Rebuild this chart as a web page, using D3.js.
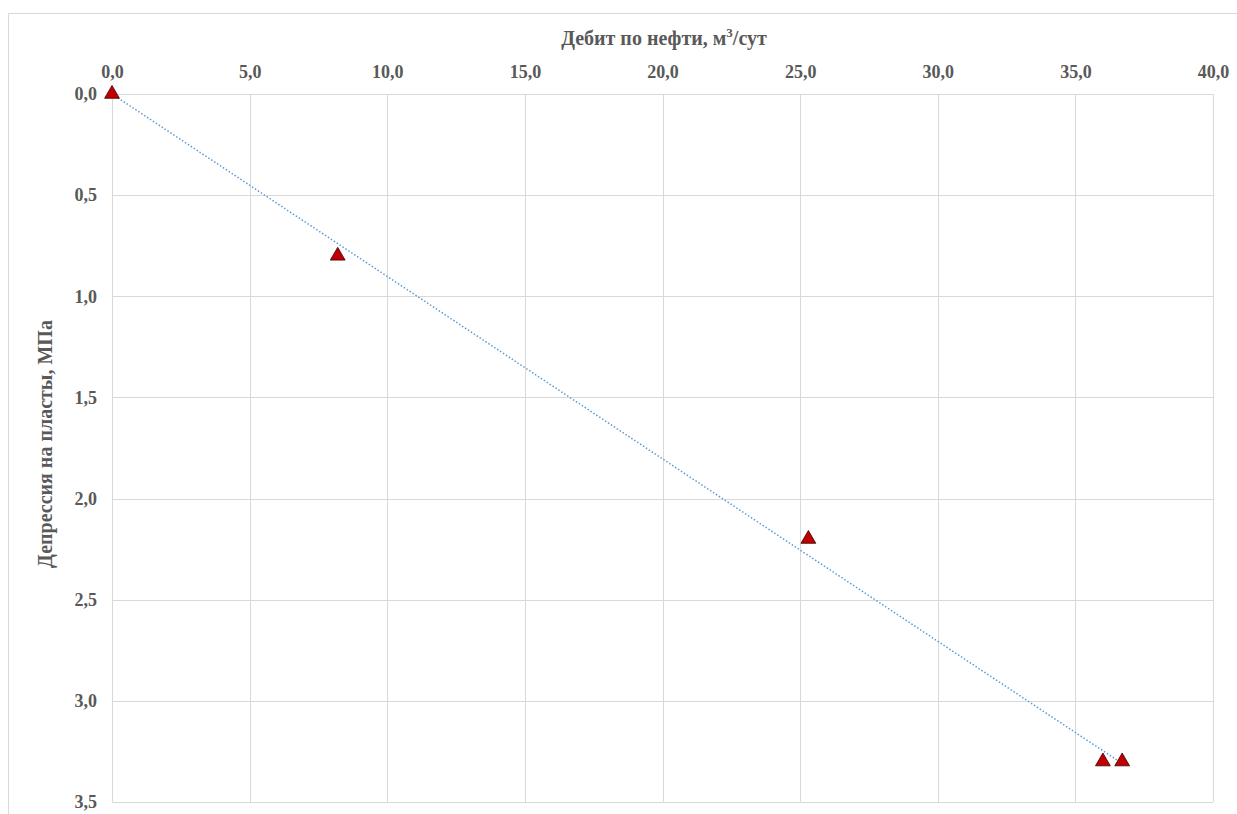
<!DOCTYPE html>
<html>
<head>
<meta charset="utf-8">
<title>Дебит по нефти</title>
<script src="https://cdn.jsdelivr.net/npm/d3@7/dist/d3.min.js"></script>
<style>
    body { margin: 0; background: #fff; }
    svg { display: block; font-family: "Liberation Serif", "Times New Roman", serif; }
    .axis-title { fill: #595959; font-size: 20px; font-weight: bold; }
</style>
</head>
<body>
<div id="chart"></div>
<script>
    // oil rate, m3/day
    var rates = [0, 8.2, 25.3, 36.0, 36.7];
    // drawdown, MPa
    var drawdowns = [0, 0.8, 2.2, 3.3, 3.3];
    var xTicks = [0, 5, 10, 15, 20, 25, 30, 35, 40];
    var yTicks = [0, 0.5, 1, 1.5, 2, 2.5, 3, 3.5];

    var width = 1237, height = 814;
    var margin = { top: 94, right: 24, bottom: 12, left: 112 };
    var plotW = width - margin.left - margin.right;
    var plotH = 802 - margin.top;

    var fmt = function(d) { return d3.format('.1f')(d).replace('.', ','); };

    var svg = d3.select('#chart').append('svg')
        .attr('width', width)
        .attr('height', height);

    // chart frame
    svg.append('rect')
        .attr('x', 8.5).attr('y', 13.5)
        .attr('width', 1240).attr('height', 820)
        .attr('fill', 'none')
        .attr('stroke', '#d9d9d9');

    var g = svg.append('g')
        .attr('transform', 'translate(' + margin.left + ',' + margin.top + ')');

    var x = d3.scaleLinear().domain([0, 40]).range([0, plotW]);
    var y = d3.scaleLinear().domain([0, 3.5]).range([0, plotH]);

    // grid
    g.selectAll('.vgrid').data(xTicks).enter().append('line')
        .attr('x1', function(d) { return Math.round(x(d)) + 0.5; })
        .attr('x2', function(d) { return Math.round(x(d)) + 0.5; })
        .attr('y1', 0).attr('y2', plotH)
        .attr('stroke', '#d9d9d9');
    g.selectAll('.hgrid').data(yTicks).enter().append('line')
        .attr('y1', function(d) { return Math.round(y(d)) + 0.5; })
        .attr('y2', function(d) { return Math.round(y(d)) + 0.5; })
        .attr('x1', 0).attr('x2', plotW)
        .attr('stroke', '#d9d9d9');

    // axes (labels only)
    var xAxis = g.append('g')
        .call(d3.axisTop(x).tickValues(xTicks).tickFormat(fmt).tickSize(0).tickPadding(16));
    var yAxis = g.append('g')
        .call(d3.axisLeft(y).tickValues(yTicks).tickFormat(fmt).tickSize(0).tickPadding(15));

    [xAxis, yAxis].forEach(function(ax) {
        ax.select('.domain').remove();
        ax.attr('font-family', '"Liberation Serif", "Times New Roman", serif')
          .attr('font-size', 18)
          .attr('font-weight', 'bold');
        ax.selectAll('text').attr('fill', '#595959');
    });

    // titles
    var xt = svg.append('text')
        .attr('class', 'axis-title')
        .attr('x', 664)
        .attr('y', 45)
        .attr('text-anchor', 'middle');
    xt.append('tspan').text('Дебит по нефти, м');
    xt.append('tspan').attr('dy', -8).attr('font-size', '13px').text('3');
    xt.append('tspan').attr('dy', 8).text('/сут');

    svg.append('text')
        .attr('class', 'axis-title')
        .attr('transform', 'translate(52,444) rotate(-90)')
        .attr('text-anchor', 'middle')
        .text('Депрессия на пласты, МПа');

    // linear trendline through origin
    var sxy = d3.sum(rates, function(d, i) { return d * drawdowns[i]; });
    var sxx = d3.sum(rates, function(d) { return d * d; });
    var k = sxy / sxx;
    var xMax = d3.max(rates);
    g.append('line')
        .attr('x1', x(0)).attr('y1', y(0))
        .attr('x2', x(xMax)).attr('y2', y(k * xMax))
        .attr('stroke', '#5b9bd5')
        .attr('stroke-width', 1.5)
        .attr('stroke-dasharray', '1.5,2');

    // markers
    var tri = d3.symbol().type(d3.symbolTriangle).size(95);
    g.selectAll('.pt').data(rates).enter().append('path')
        .attr('d', tri)
        .attr('transform', function(d, i) {
            return 'translate(' + x(d) + ',' + y(drawdowns[i]) + ')';
        })
        .attr('fill', '#c00000')
        .attr('stroke', '#3a0000')
        .attr('stroke-width', 0.8);
</script>
</body>
</html>
